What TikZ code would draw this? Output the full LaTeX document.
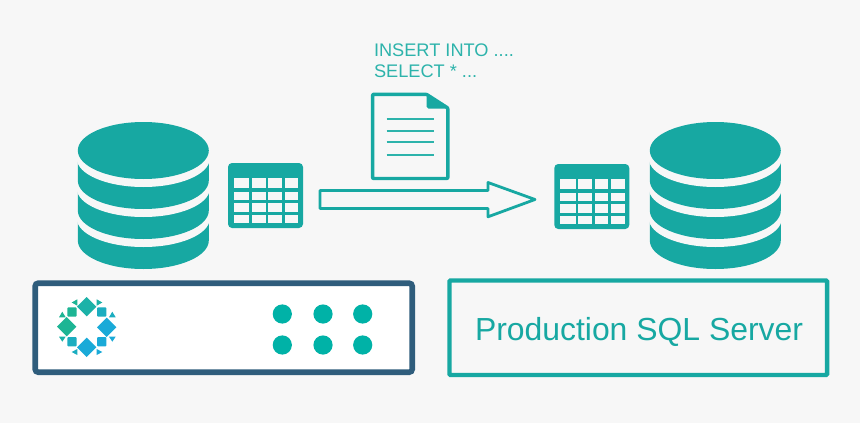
\documentclass[tikz,border=0pt]{standalone}
\usepackage{fontspec}
\setmainfont{Liberation Sans}
\definecolor{bg}{HTML}{F7F7F7}
\definecolor{teal}{HTML}{17A8A2}
\definecolor{lteal}{HTML}{2DB3AB}
\definecolor{navy}{HTML}{2F5D7C}
\definecolor{dot}{HTML}{00B2A7}
\definecolor{lg1}{HTML}{1DB594}
\definecolor{lg2}{HTML}{1CB2A8}
\definecolor{lg3}{HTML}{1BADC0}
\definecolor{lg4}{HTML}{1AAAD8}
\tikzset{
  tealfill/.style={fill=teal,draw=none},
  bgfill/.style={fill=bg,draw=none},
  outline/.style={draw=teal,line width=#1,line join=round,fill=none},
  sqltext/.style={text=lteal,anchor=base west,inner sep=0pt,outer sep=0pt},
  ledot/.style={fill=dot,draw=none},
  dbase/.pic={
    \path[tealfill] (-65.5,218) -- (65.5,218) -- (65.5,240.5) arc[start angle=0,end angle=180,x radius=65.5,y radius=28.5] -- cycle;
    \path[bgfill] (0,218.5) ellipse[x radius=66.5,y radius=28.5];
    \path[tealfill] (-65.5,188) -- (65.5,188) -- (65.5,210.5) arc[start angle=0,end angle=180,x radius=65.5,y radius=28.5] -- cycle;
    \path[bgfill] (0,188.5) ellipse[x radius=66.5,y radius=28.5];
    \path[tealfill] (-65.5,158) -- (65.5,158) -- (65.5,180.5) arc[start angle=0,end angle=180,x radius=65.5,y radius=28.5] -- cycle;
    \path[bgfill] (0,158.5) ellipse[x radius=66.5,y radius=28.5];
    \path[tealfill] (0,150.5) ellipse[x radius=65.5,y radius=28.5];
  },
  gridtable/.pic={
    \path[tealfill,rounded corners=4] (0,0) rectangle (75,65);
    \foreach \xa/\xb in {6/21.3,24/37.7,40.3/54,56.7/70.3}
      \foreach \ya/\yb in {14.7/25,28.7/37,39.7/48.7,51.7/60}
        \path[bgfill] (\xa,\ya) rectangle (\xb,\yb);
  },
}
\begin{document}
\begin{tikzpicture}[x=1pt,y=-1pt]
\path[fill=bg] (0,0) rectangle (860,423);
\useasboundingbox (0,0) rectangle (860,423);
% databases and tables
\pic at (143.3,0) {dbase};
\pic at (715.3,0) {dbase};
\pic at (228,163) {gridtable};
\pic at (554.3,164) {gridtable};
% arrow
\draw[outline=2.8pt,fill=bg] (320,190.5) -- (488,190.5) -- (488,182.5) -- (535,199.5) -- (488,216.8) -- (488,208.5) -- (320,208.5) -- cycle;
% document
\draw[outline=3.4pt,fill=bg,rounded corners=0.8pt] (372.6,94.3) -- (426.5,94.3) -- (447.8,108) -- (447.8,178.5) -- (372.6,178.5) -- cycle;
\path[tealfill] (426.7,94.5) -- (448,108.6) -- (428.5,108.6) -- (426.7,106.8) -- cycle;
\foreach \ly in {118.7,131,142,154.7}
  \draw[draw=lteal,line width=2pt] (386.7,\ly) -- (434,\ly);
% text
\node[sqltext,font=\fontsize{18.2pt}{20pt}\selectfont] (insert) at (374,56) {INSERT INTO ....};
\node[sqltext,font=\fontsize{18.2pt}{20pt}\selectfont] (select) at (374,77) {SELECT * ...};
% left box
\draw[draw=navy,line width=5.6pt,fill=white,rounded corners=3pt] (35.2,283.2) rectangle (412.2,372.2);
% logo
\path[fill=lg2] (86.7,297) -- (96.4,306.7) -- (86.7,316.4) -- (77,306.7) -- cycle;
\path[fill=lg1] (66.7,317) -- (76.4,326.7) -- (66.7,336.4) -- (57,326.7) -- cycle;
\path[fill=lg4] (106.7,317.6) -- (116.4,327.3) -- (106.7,337) -- (97,327.3) -- cycle;
\path[fill=lg4] (86.7,337.6) -- (96.4,347.3) -- (86.7,357) -- (77,347.3) -- cycle;
\path[fill=lg1,rounded corners=1pt] (67.3,307.3) rectangle (76.7,316.7);
\path[fill=lg3,rounded corners=1pt] (97,307.3) rectangle (106.4,316.7);
\path[fill=lg3,rounded corners=1pt] (67.3,337) rectangle (76.7,346.4);
\path[fill=lg4,rounded corners=1pt] (97,337) rectangle (106.4,346.4);
\path[fill=lg1] (71.7,302.5) -- (77.3,299.3) -- (77.3,305.7) -- cycle;
\path[fill=lg2] (96.7,299.3) -- (96.7,305.7) -- (102.3,302.5) -- cycle;
\path[fill=lg1] (59,317.3) -- (62.3,311.7) -- (65.7,317.3) -- cycle;
\path[fill=lg3] (109,317.3) -- (112.3,311.7) -- (115.7,317.3) -- cycle;
\path[fill=lg2] (59,336.7) -- (65.7,336.7) -- (62.3,341.7) -- cycle;
\path[fill=lg4] (109,336.7) -- (115.7,336.7) -- (112.3,341.7) -- cycle;
\path[fill=lg3] (71.7,352) -- (77.3,349) -- (77.3,355) -- cycle;
\path[fill=lg4] (96.7,349) -- (96.7,355) -- (102.3,352) -- cycle;
% dots
\foreach \dx in {282.3,323,362.7}
  \foreach \dy in {314,345}
    \path[ledot] (\dx,\dy) circle[radius=9.6];
% right box
\draw[draw=teal,line width=4.4pt,rounded corners=1pt] (449.5,280.5) rectangle (827.1,375);
\node[sqltext,text=teal,font=\fontsize{31.9pt}{34pt}\selectfont] (server) at (475,340) {Production SQL Server};
\end{tikzpicture}
\end{document}
